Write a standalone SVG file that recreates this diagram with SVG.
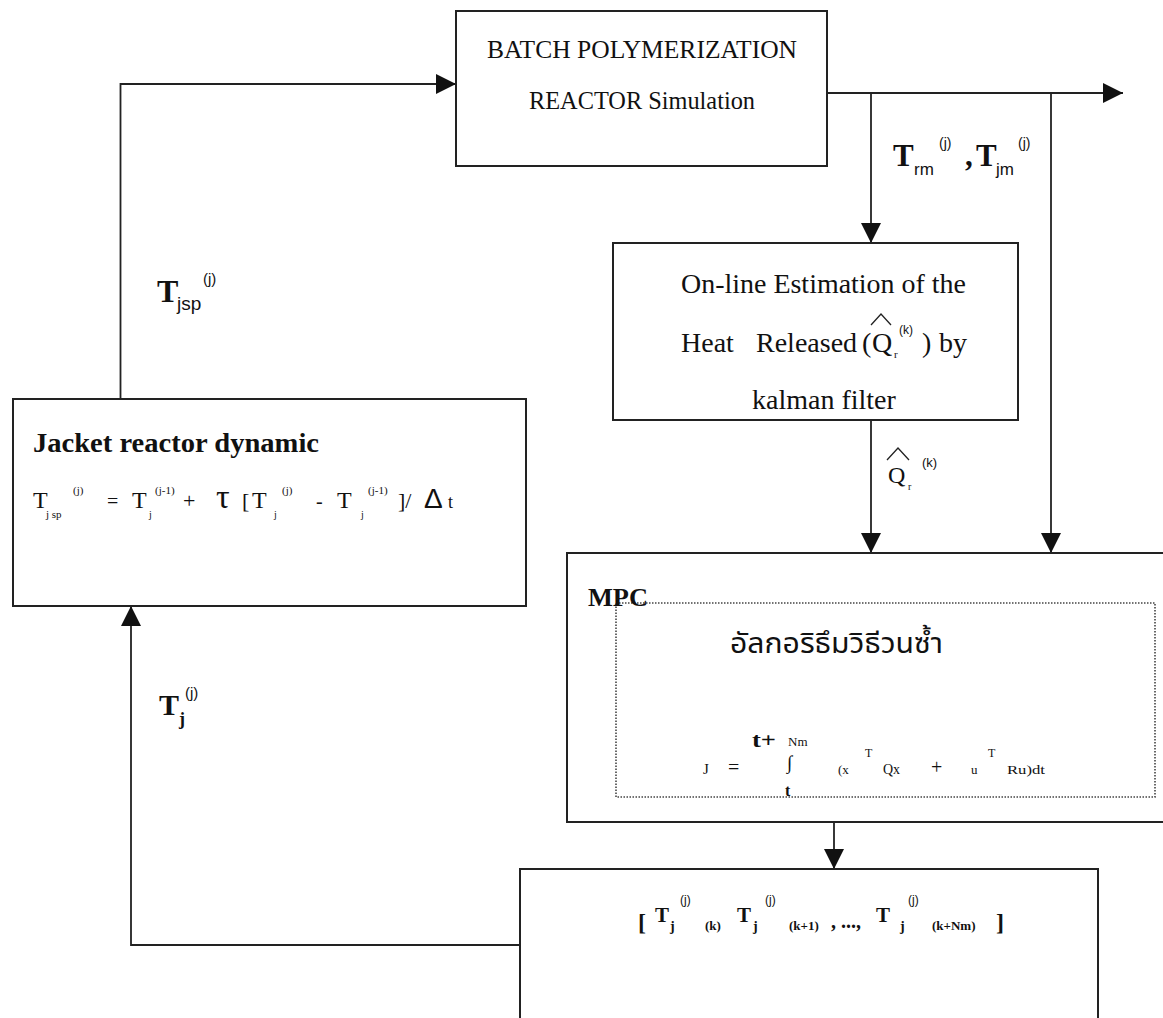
<svg xmlns="http://www.w3.org/2000/svg" width="1163" height="1018" viewBox="0 0 1163 1018">
<defs>
<marker id="arr" markerUnits="userSpaceOnUse" markerWidth="20" markerHeight="20" viewBox="0 0 20 20" refX="20" refY="10" orient="auto">
<path d="M0,0 L20,10 L0,20 Z" fill="#111"/>
</marker>
<style>
.box{fill:#fff;stroke:#222;stroke-width:2}
.dot{fill:none;stroke:#444;stroke-width:1.6;stroke-dasharray:1.5 1.5}
.ln{fill:none;stroke:#222;stroke-width:1.8}
.hat{fill:none;stroke:#222;stroke-width:1.3}
text{fill:#111;font-family:"Liberation Serif","Times New Roman",serif}
.b{font-weight:bold}
.s{font-family:"Liberation Sans",Arial,sans-serif}
.th{font-family:"Noto Sans Thai","Noto Serif Thai","Loma","Garuda","Norasi","DejaVu Sans","Noto Sans",sans-serif}
</style>
</defs>
<rect width="1163" height="1018" fill="#fff"/>

<g id="connectors">
<polyline class="ln" points="120.5,399 120.5,84 456,84" marker-end="url(#arr)"/>
<line class="ln" x1="827" y1="93" x2="1123" y2="93" marker-end="url(#arr)"/>
<line class="ln" x1="871" y1="93" x2="871" y2="243" marker-end="url(#arr)"/>
<line class="ln" x1="1051" y1="93" x2="1051" y2="553" marker-end="url(#arr)"/>
<line class="ln" x1="871" y1="408" x2="871" y2="553" marker-end="url(#arr)"/>
<line class="ln" x1="834" y1="822" x2="834" y2="869" marker-end="url(#arr)"/>
<polyline class="ln" points="520,945 131,945 131,606" marker-end="url(#arr)"/>
</g>

<g id="batch-reactor">
<rect class="box" x="456" y="11" width="371" height="155"/>
<text x="487" y="58" font-size="25" textLength="310" lengthAdjust="spacingAndGlyphs">BATCH  POLYMERIZATION</text>
<text x="529" y="109" font-size="25" textLength="226" lengthAdjust="spacingAndGlyphs">REACTOR Simulation</text>
</g>

<g id="label-trm-tjm">
<text class="b" x="893" y="166" font-size="31">T</text>
<text class="s" x="914" y="175" font-size="17">rm</text>
<text class="s" x="939" y="148" font-size="14">(j)</text>
<text class="b" x="965" y="166" font-size="31">,</text>
<text class="b" x="976" y="166" font-size="31">T</text>
<text class="s" x="996" y="175" font-size="17">jm</text>
<text class="s" x="1018" y="148" font-size="14">(j)</text>
</g>

<g id="label-tjsp">
<text class="b" x="157" y="302" font-size="32">T</text>
<text class="s" x="177" y="310" font-size="19">jsp</text>
<text class="s" x="203" y="284" font-size="15">(j)</text>
</g>

<g id="online-estimation">
<rect class="box" x="613" y="243" width="405" height="177"/>
<text x="681" y="293" font-size="28" textLength="285" lengthAdjust="spacingAndGlyphs">On-line Estimation of the</text>
<text x="681" y="352" font-size="28">Heat</text>
<text x="756" y="352" font-size="28">Released</text>
<text x="862" y="352" font-size="28">(</text>
<text x="872" y="352" font-size="28">Q</text>
<path class="hat" d="M871,325 L881,314 L891,325"/>
<text x="894" y="358" font-size="11">r</text>
<text class="s" x="899" y="334" font-size="12">(k)</text>
<text x="922" y="352" font-size="28">)</text>
<text x="939" y="352" font-size="28">by</text>
<text x="752" y="409" font-size="28">kalman filter</text>
</g>

<g id="label-qr">
<text x="888" y="483" font-size="24">Q</text>
<path class="hat" d="M887,460 L898,448 L909,460"/>
<text x="908" y="490" font-size="10">r</text>
<text class="s" x="922" y="467" font-size="13">(k)</text>
</g>

<g id="jacket-reactor">
<rect class="box" x="13" y="399" width="513" height="207"/>
<text class="b" x="33" y="452" font-size="27" textLength="286" lengthAdjust="spacingAndGlyphs">Jacket reactor dynamic</text>
<text x="33" y="508" font-size="24">T</text>
<text x="46" y="518" font-size="11">j sp</text>
<text x="73" y="494" font-size="11">(j)</text>
<text x="107" y="508" font-size="20">=</text>
<text x="132" y="508" font-size="24">T</text>
<text x="149" y="518" font-size="10">j</text>
<text x="155" y="494" font-size="11">(j-1)</text>
<text x="183" y="508" font-size="22">+</text>
<text x="216" y="508" font-size="34">τ</text>
<text x="242" y="508" font-size="22">[</text>
<text x="252" y="508" font-size="24">T</text>
<text x="274" y="518" font-size="10">j</text>
<text x="282" y="494" font-size="11">(j)</text>
<text x="316" y="508" font-size="20">-</text>
<text x="337" y="508" font-size="24">T</text>
<text x="361" y="518" font-size="10">j</text>
<text x="368" y="494" font-size="11">(j-1)</text>
<text x="398" y="508" font-size="22">]/</text>
<text class="s" x="424" y="508" font-size="28">Δ</text>
<text x="448" y="508" font-size="18">t</text>
</g>

<g id="label-tj">
<text class="b" x="159" y="715" font-size="30">T</text>
<text class="b" x="179" y="725" font-size="18">j</text>
<text class="s" x="185" y="698" font-size="15">(j)</text>
</g>

<g id="mpc">
<rect class="box" x="567" y="553" width="610" height="269"/>
<rect class="dot" x="616" y="603" width="539" height="194"/>
<text class="b" x="588" y="606" font-size="25" textLength="60" lengthAdjust="spacingAndGlyphs">MPC</text>
<text class="th" x="730" y="653" font-size="28" textLength="213" lengthAdjust="spacingAndGlyphs">อัลกอริธึมวิธีวนซ้ำ</text>
<text x="703" y="774" font-size="15">J</text>
<text x="728" y="774" font-size="20">=</text>
<text class="b" x="752" y="747" font-size="20" textLength="24" lengthAdjust="spacingAndGlyphs">t+</text>
<text x="788" y="746" font-size="13">Nm</text>
<text x="787" y="769" font-size="19">∫</text>
<text class="b" x="785" y="796" font-size="16">t</text>
<text x="838" y="774" font-size="13">(x</text>
<text x="865" y="757" font-size="12">T</text>
<text x="883" y="774" font-size="14">Qx</text>
<text x="931" y="774" font-size="20">+</text>
<text x="971" y="774" font-size="13">u</text>
<text x="988" y="757" font-size="12">T</text>
<text x="1007" y="774" font-size="13" textLength="38" lengthAdjust="spacingAndGlyphs">Ru)dt</text>
</g>

<g id="trajectory">
<rect class="box" x="520" y="869" width="578" height="200"/>
<text class="b" x="638" y="930" font-size="24">[</text>
<text class="b" x="655" y="922" font-size="21">T</text>
<text class="b" x="670" y="931" font-size="14">j</text>
<text class="s" x="680" y="904" font-size="12">(j)</text>
<text class="b" x="705" y="930" font-size="13">(k)</text>
<text class="b" x="737" y="922" font-size="21">T</text>
<text class="b" x="753" y="931" font-size="14">j</text>
<text class="s" x="765" y="904" font-size="12">(j)</text>
<text class="b" x="789" y="930" font-size="13">(k+1)</text>
<text class="b" x="831" y="928" font-size="20">, ...,</text>
<text class="b" x="876" y="922" font-size="21">T</text>
<text class="b" x="900" y="931" font-size="14">j</text>
<text class="s" x="908" y="904" font-size="12">(j)</text>
<text class="b" x="932" y="930" font-size="13">(k+Nm)</text>
<text class="b" x="996" y="930" font-size="24">]</text>
</g>
</svg>
